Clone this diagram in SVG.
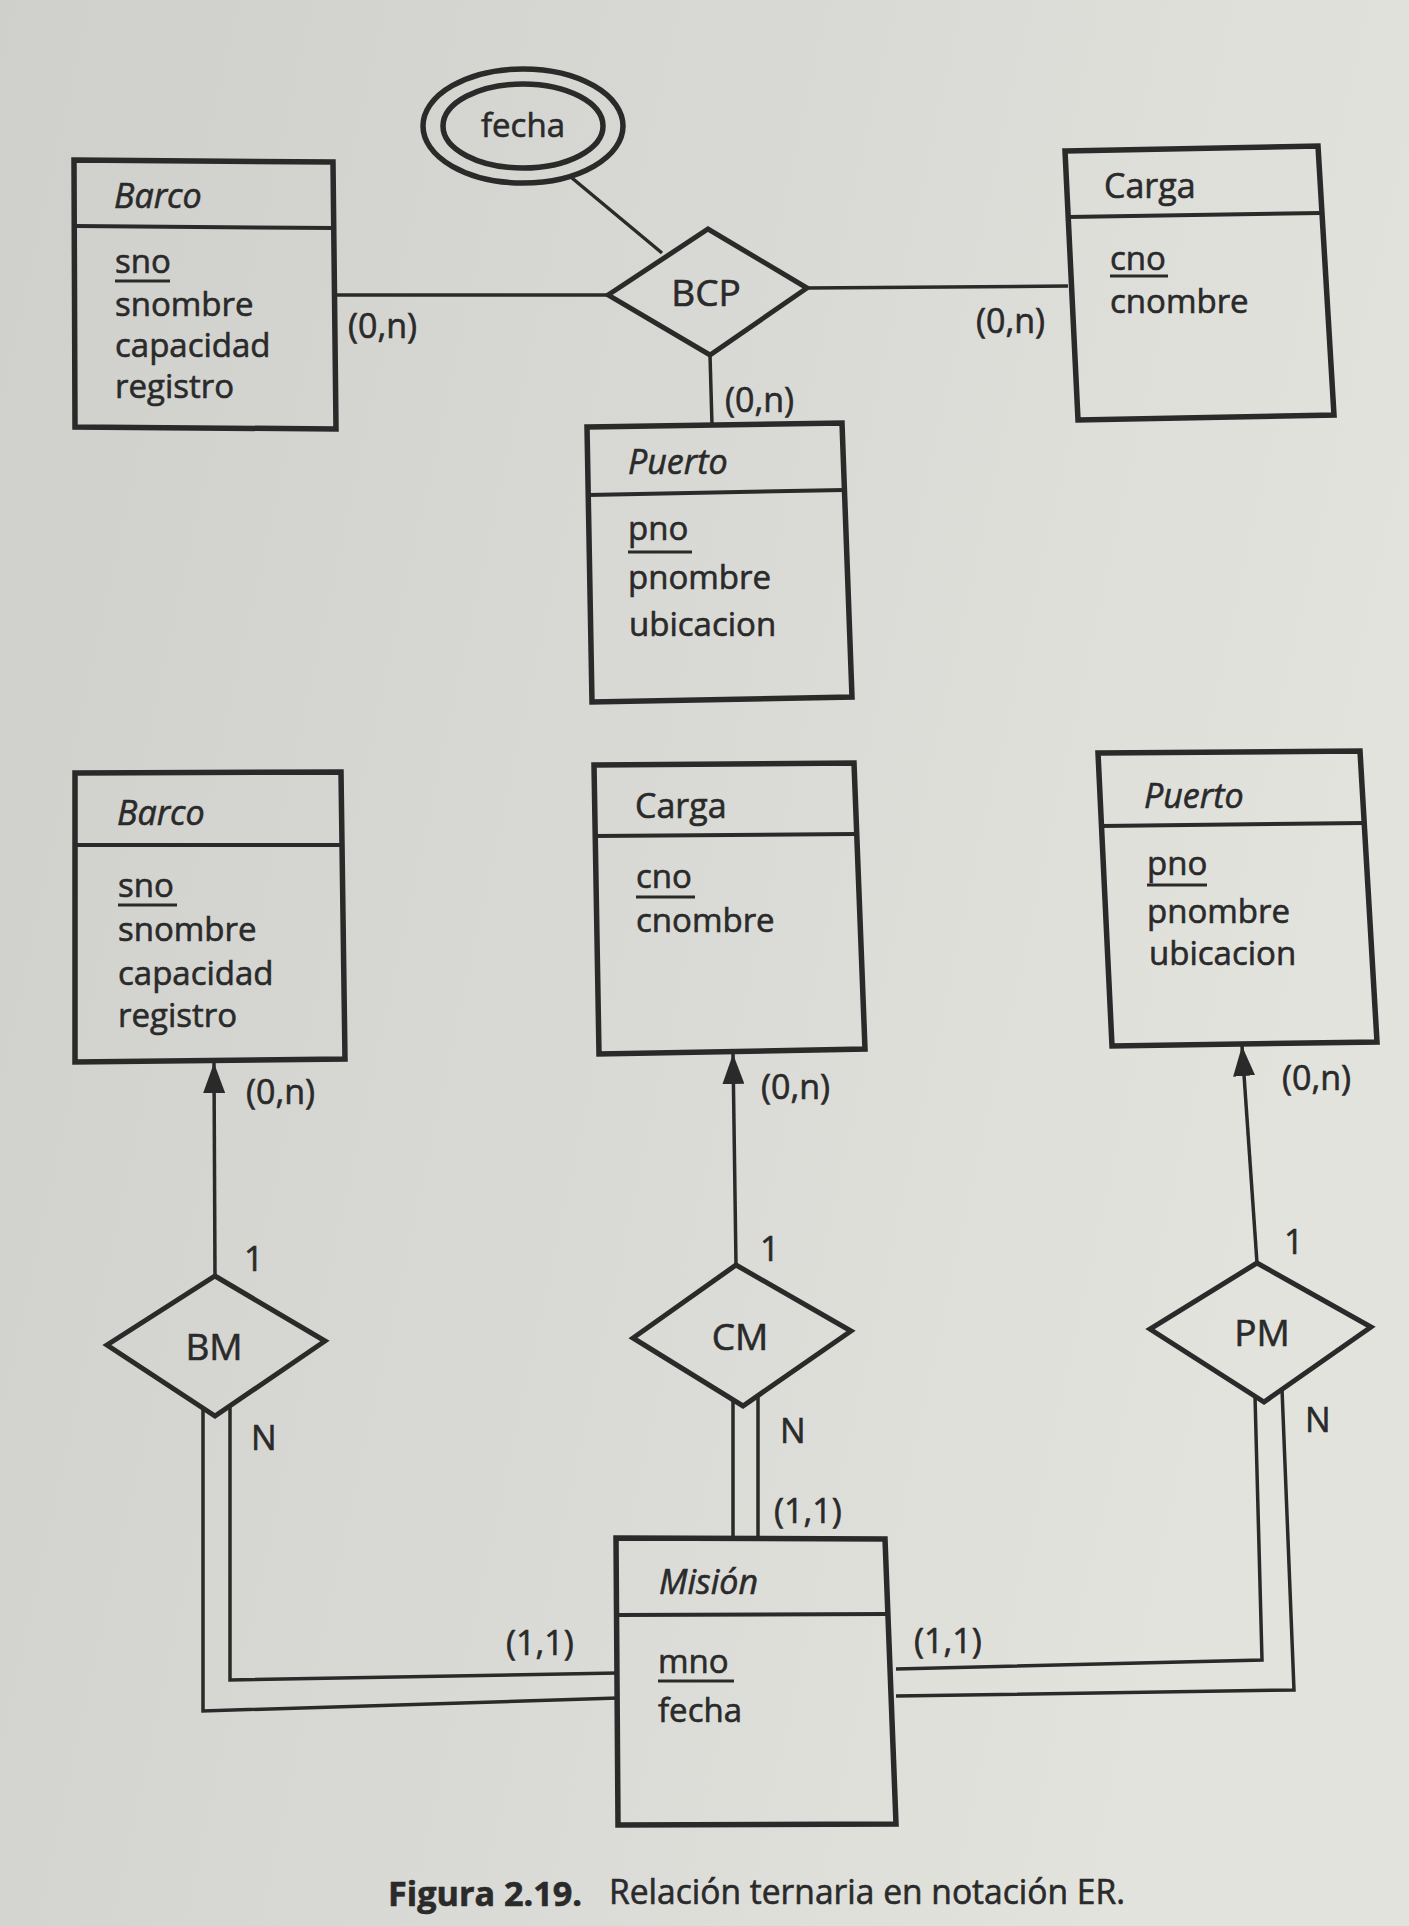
<svg xmlns="http://www.w3.org/2000/svg" width="1409" height="1926" viewBox="0 0 1409 1926">
  <defs>
    <linearGradient id="paper" x1="0" y1="0" x2="1" y2="0.3">
      <stop offset="0" stop-color="#cfcfcb"/>
      <stop offset="0.55" stop-color="#d9d9d5"/>
      <stop offset="1" stop-color="#e3e3de"/>
    </linearGradient>
    <marker id="arrow" viewBox="0 0 30 22" refX="30" refY="11" markerWidth="30" markerHeight="22" markerUnits="userSpaceOnUse" orient="auto">
      <path d="M0,0 L30,11 L0,22 z" fill="#2a2a2a"/>
    </marker>
    <style>
      .box { fill: none; stroke: #2a2a2a; stroke-width: 5.5; stroke-linejoin: miter; }
      .sep { fill: none; stroke: #2a2a2a; stroke-width: 4; }
      .dia { fill: none; stroke: #2a2a2a; stroke-width: 5; stroke-linejoin: miter; }
      .edge { fill: none; stroke: #2a2a2a; stroke-width: 3.5; }
      .key { stroke: #2a2a2a; stroke-width: 2.8; }
      text { font-family: "Open Sans", "DejaVu Sans", sans-serif; fill: #2a2a2a; stroke: #2a2a2a; stroke-width: 0.6; }
      .name { font-size: 34px; }
      .it { font-style: italic; }
      .attr { font-size: 33px; }
      .rel { font-size: 37px; }
      .card { font-size: 34px; }
      .cap { font-size: 34px; }
    </style>
  </defs>

  <rect x="0" y="0" width="1409" height="1926" fill="url(#paper)"/>

  <!-- connectors -->
  <g id="connectors">
    <!-- upper ternary relationship BCP -->
    <line class="edge" x1="336" y1="295" x2="608" y2="295"/>
    <line class="edge" x1="807" y1="288" x2="1068" y2="286"/>
    <line class="edge" x1="710" y1="355" x2="712" y2="425"/>
    <line class="edge" x1="572" y1="178" x2="662" y2="253"/>

    <!-- binary relationships, arrows toward the "1" side -->
    <line class="edge" x1="215" y1="1276" x2="214" y2="1063" marker-end="url(#arrow)"/>
    <line class="edge" x1="736" y1="1265" x2="733" y2="1054" marker-end="url(#arrow)"/>
    <line class="edge" x1="1257" y1="1263" x2="1242" y2="1046" marker-end="url(#arrow)"/>

    <!-- double lines (total participation of Misión) -->
    <polyline class="edge" points="203,1408 203,1711 618,1698"/>
    <polyline class="edge" points="230,1406 230,1680 618,1673"/>
    <line class="edge" x1="733" y1="1400" x2="733" y2="1538"/>
    <line class="edge" x1="758" y1="1396" x2="758" y2="1538"/>
    <polyline class="edge" points="1255,1396 1262,1660 896,1669"/>
    <polyline class="edge" points="1282,1389 1294,1690 896,1696"/>
  </g>

  <!-- cardinality labels -->
  <g id="labels">
    <text class="card" x="348" y="338">(0,n)</text>
    <text class="card" x="976" y="333">(0,n)</text>
    <text class="card" x="725" y="412">(0,n)</text>
    <text class="card" x="246" y="1104">(0,n)</text>
    <text class="card" x="761" y="1099">(0,n)</text>
    <text class="card" x="1282" y="1090">(0,n)</text>
    <text class="card" x="244" y="1271">1</text>
    <text class="card" x="760" y="1261">1</text>
    <text class="card" x="1284" y="1254">1</text>
    <text class="card" x="251" y="1450">N</text>
    <text class="card" x="780" y="1443">N</text>
    <text class="card" x="1305" y="1432">N</text>
    <text class="card" x="506" y="1655">(1,1)</text>
    <text class="card" x="774" y="1523">(1,1)</text>
    <text class="card" x="914" y="1653">(1,1)</text>
  </g>

  <!-- multivalued attribute fecha -->
  <g id="fecha">
    <ellipse cx="523" cy="126" rx="100" ry="57" class="box" stroke-width="4.5"/>
    <ellipse cx="523" cy="126" rx="80" ry="42" class="box" stroke-width="4.5"/>
    <text class="attr" x="523" y="137" text-anchor="middle">fecha</text>
  </g>

  <!-- relationship BCP -->
  <g id="BCP">
    <polygon class="dia" points="608,295 708,229 807,288 710,355"/>
    <text class="rel" x="706" y="306" text-anchor="middle">BCP</text>
  </g>

  <!-- upper entity Barco -->
  <g id="barco1">
    <polygon class="box" points="74,160 333,162 336,429 75,427"/>
    <line class="sep" x1="76" y1="226" x2="334" y2="228"/>
    <text class="name it" x="114" y="208">Barco</text>
    <text class="attr" x="115" y="273">sno</text>
    <line class="key" x1="115" y1="281" x2="170" y2="281"/>
    <text class="attr" x="115" y="316">snombre</text>
    <text class="attr" x="115" y="357">capacidad</text>
    <text class="attr" x="115" y="398">registro</text>
  </g>

  <!-- upper entity Carga -->
  <g id="carga1">
    <polygon class="box" points="1065,151 1318,146 1334,415 1078,420"/>
    <line class="sep" x1="1068" y1="217" x2="1321" y2="213"/>
    <text class="name" x="1104" y="198">Carga</text>
    <text class="attr" x="1110" y="270">cno</text>
    <line class="key" x1="1110" y1="276" x2="1168" y2="276"/>
    <text class="attr" x="1110" y="313">cnombre</text>
  </g>

  <!-- upper entity Puerto -->
  <g id="puerto1">
    <polygon class="box" points="587,427 842,423 852,697 592,702"/>
    <line class="sep" x1="588" y1="495" x2="844" y2="490"/>
    <text class="name it" x="628" y="474">Puerto</text>
    <text class="attr" x="628" y="540">pno</text>
    <line class="key" x1="628" y1="552" x2="692" y2="552"/>
    <text class="attr" x="628" y="589">pnombre</text>
    <text class="attr" x="629" y="636">ubicacion</text>
  </g>

  <!-- lower entity Barco -->
  <g id="barco2">
    <polygon class="box" points="75,773 341,772 345,1059 75,1062"/>
    <line class="sep" x1="77" y1="845" x2="341" y2="845"/>
    <text class="name it" x="117" y="825">Barco</text>
    <text class="attr" x="118" y="897">sno</text>
    <line class="key" x1="118" y1="905" x2="177" y2="905"/>
    <text class="attr" x="118" y="941">snombre</text>
    <text class="attr" x="118" y="985">capacidad</text>
    <text class="attr" x="118" y="1027">registro</text>
  </g>

  <!-- lower entity Carga -->
  <g id="carga2">
    <polygon class="box" points="594,765 854,763 865,1049 599,1054"/>
    <line class="sep" x1="595" y1="836" x2="856" y2="834"/>
    <text class="name" x="635" y="818">Carga</text>
    <text class="attr" x="636" y="888">cno</text>
    <line class="key" x1="636" y1="897" x2="695" y2="897"/>
    <text class="attr" x="636" y="932">cnombre</text>
  </g>

  <!-- lower entity Puerto -->
  <g id="puerto2">
    <polygon class="box" points="1098,753 1360,751 1377,1042 1112,1046"/>
    <line class="sep" x1="1101" y1="826" x2="1363" y2="823"/>
    <text class="name it" x="1144" y="808">Puerto</text>
    <text class="attr" x="1147" y="875">pno</text>
    <line class="key" x1="1147" y1="885" x2="1207" y2="885"/>
    <text class="attr" x="1147" y="923">pnombre</text>
    <text class="attr" x="1149" y="965">ubicacion</text>
  </g>

  <!-- relationships BM, CM, PM -->
  <g id="BM">
    <polygon class="dia" points="215,1276 325,1341 215,1416 107,1345"/>
    <text class="rel" x="214" y="1360" text-anchor="middle">BM</text>
  </g>
  <g id="CM">
    <polygon class="dia" points="736,1265 851,1331 743,1406 633,1338"/>
    <text class="rel" x="740" y="1350" text-anchor="middle">CM</text>
  </g>
  <g id="PM">
    <polygon class="dia" points="1257,1263 1371,1327 1264,1402 1150,1329"/>
    <text class="rel" x="1262" y="1346" text-anchor="middle">PM</text>
  </g>

  <!-- entity Misión -->
  <g id="mision">
    <polygon class="box" points="616,1538 885,1539 896,1824 618,1825"/>
    <line class="sep" x1="618" y1="1615" x2="887" y2="1614"/>
    <text class="name it" x="659" y="1594">Misión</text>
    <text class="attr" x="658" y="1673">mno</text>
    <line class="key" x1="658" y1="1681" x2="734" y2="1681"/>
    <text class="attr" x="658" y="1722">fecha</text>
  </g>

  <!-- caption -->
  <g id="caption">
    <text class="cap" x="388" y="1906" font-weight="bold" textLength="194" lengthAdjust="spacingAndGlyphs">Figura 2.19.</text>
    <text class="cap" x="609" y="1904" textLength="516" lengthAdjust="spacingAndGlyphs">Relación ternaria en notación ER.</text>
  </g>
</svg>
